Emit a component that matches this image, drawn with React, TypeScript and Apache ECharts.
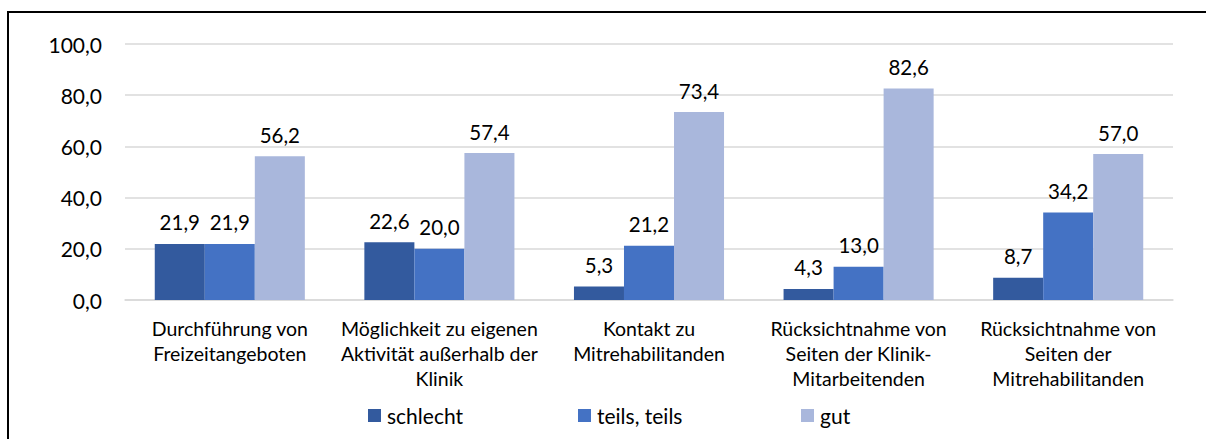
import React, { useEffect, useRef } from "react";
import * as echarts from "echarts";

const categories = [
  "Durchführung von\nFreizeitangeboten",
  "Möglichkeit zu eigenen\nAktivität außerhalb der\nKlinik",
  "Kontakt zu\nMitrehabilitanden",
  "Rücksichtnahme von\nSeiten der Klinik-\nMitarbeitenden",
  "Rücksichtnahme von\nSeiten der\nMitrehabilitanden",
];
const schlecht = [21.9, 22.6, 5.3, 4.3, 8.7];
const teils = [21.9, 20.0, 21.2, 13.0, 34.2];
const gut = [56.2, 57.4, 73.4, 82.6, 57.0];
const seriesNames = ["schlecht", "teils, teils", "gut"];
const colors = ["#335A9E", "#4472C4", "#A9B7DC"];

const FONT = "Lato";
const fmt = (v: number) => v.toFixed(1).replace(".", ",");

export default function App() {
  const ref = useRef<HTMLDivElement>(null);
  useEffect(() => {
    if (!ref.current) return;
    const chart = echarts.init(ref.current, undefined, { renderer: "svg" });
    const data = [schlecht, teils, gut];
    const legendLefts = [368, 578, 801];
    chart.setOption({
      animation: false,
      textStyle: { fontFamily: FONT },
      grid: { left: 125, right: 33, top: 44, bottom: 139, containLabel: false },
      legend: seriesNames.map((n, i) => ({
        data: [n],
        left: legendLefts[i],
        top: 405,
        padding: 0,
        itemWidth: 13,
        itemHeight: 13,
        icon: "rect",
        itemGap: 5,
        textStyle: { fontFamily: FONT, fontSize: 21, color: "#000", padding: [0, 0, 0, 1] },
      })),
      xAxis: {
        type: "category",
        data: categories,
        axisLine: { show: true, lineStyle: { color: "#D9D9D9", width: 1.5 } },
        axisTick: { show: false },
        axisLabel: {
          interval: 0,
          margin: 16,
          fontFamily: FONT,
          fontSize: 19.5,
          lineHeight: 25,
          color: "#000",
          align: "center",
        },
      },
      yAxis: {
        type: "value",
        min: 0,
        max: 100,
        interval: 20,
        axisLine: { show: false },
        axisTick: { show: false },
        splitLine: { lineStyle: { color: "#D9D9D9", width: 1.5 } },
        axisLabel: {
          formatter: (v: number) => fmt(v),
          margin: 23,
          fontFamily: FONT,
          fontSize: 21,
          color: "#000",
        },
      },
      series: data.map((d, i) => ({
        name: seriesNames[i],
        type: "bar",
        data: d,
        barGap: "0%",
        barCategoryGap: "28.4%",
        itemStyle: { color: colors[i] },
        label: {
          show: true,
          position: "top",
          distance: 11,
          formatter: (p: any) => fmt(p.value),
          fontFamily: FONT,
          fontSize: 20.5,
          color: "#000",
        },
      })),
      graphic: [
        {
          type: "polyline",
          shape: { points: [[8, 460], [8, 12], [1230, 12]] },
          style: { fill: "none", stroke: "#000", lineWidth: 2 },
          z: 100,
        },
      ],
    });
    return () => chart.dispose();
  }, []);
  return (
    <div
      ref={ref}
      style={{ position: "fixed", left: 0, top: 0, width: 1206, height: 439, background: "#fff" }}
    />
  );
}
